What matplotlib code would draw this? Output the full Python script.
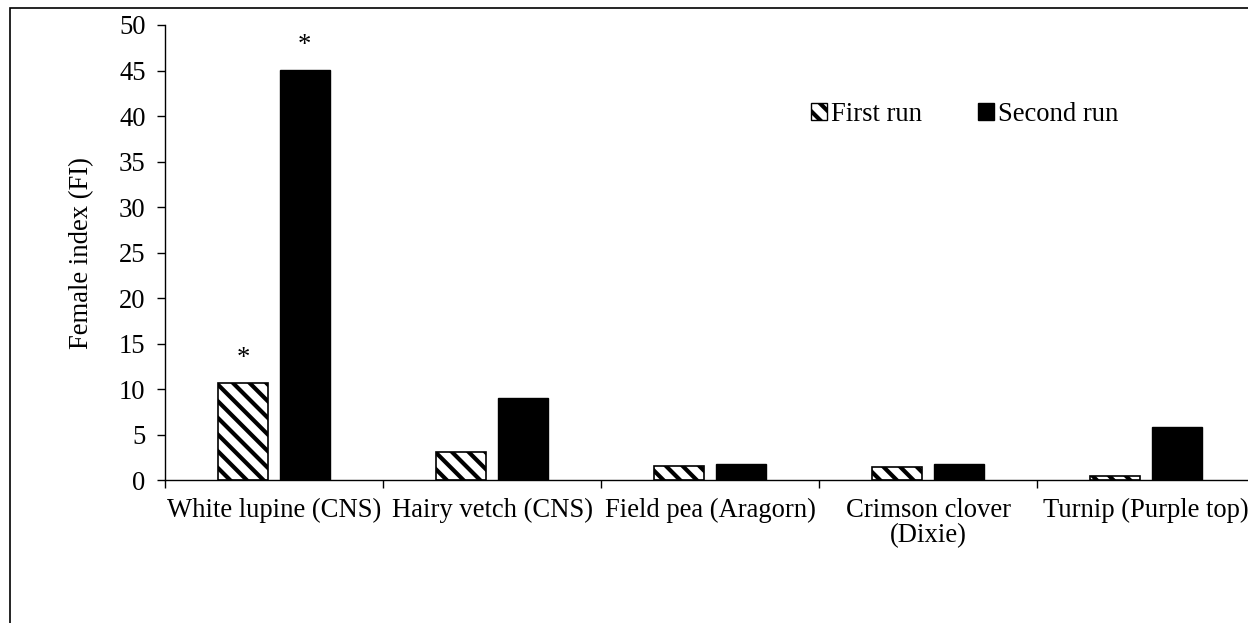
import matplotlib
matplotlib.use("Agg")
import matplotlib.pyplot as plt
from matplotlib.patches import Rectangle, Patch
import numpy as np

plt.rcParams['font.family'] = ['Liberation Serif', 'DejaVu Serif']
plt.rcParams['hatch.linewidth'] = 3.0

categories = ["White lupine (CNS)", "Hairy vetch (CNS)", "Field pea (Aragorn)",
              "Crimson clover\n(Dixie)", "Turnip (Purple top)"]
first_run = [10.7, 3.07, 1.57, 1.5, 0.5]
second_run = [45.1, 9.07, 1.75, 1.75, 5.8]
significant_first = [True, False, False, False, False]
significant_second = [True, False, False, False, False]

FS = 19.2

fig = plt.figure(figsize=(12.48, 6.23), dpi=100)
ax = fig.add_axes([165 / 1248, 142.7 / 623, 1090 / 1248, 455.3 / 623])

x = np.arange(len(categories))
off = 0.141
w = 0.229
ax.bar(x - off, first_run, width=w, color='white', edgecolor='black',
       hatch='\\\\', linewidth=1.2)
ax.bar(x + off, second_run, width=w, color='black', edgecolor='black',
       linewidth=1.0)

for xi, v, s in zip(x - off, first_run, significant_first):
    if s:
        ax.text(xi, v + 1.3, "*", ha='center', va='bottom', fontsize=FS)
for xi, v, s in zip(x + off, second_run, significant_second):
    if s:
        ax.text(xi, v + 1.3, "*", ha='center', va='bottom', fontsize=FS)

ax.set_xlim(-0.5, len(categories) - 0.5)
ax.set_ylim(0, 50)
ax.set_yticks(np.arange(0, 51, 5))
ax.set_xticks(x)
ax.set_xticklabels(categories, fontsize=FS, linespacing=1.0)
ax.set_xticks(np.arange(-0.5, len(categories), 1.0), minor=True)
ax.tick_params(axis='x', which='major', length=0, pad=13)
ax.tick_params(axis='x', which='minor', length=6, width=1, direction='out')
ax.tick_params(axis='y', length=6, width=1, direction='out', labelsize=FS, pad=8)
ax.spines['top'].set_visible(False)
ax.spines['right'].set_visible(False)
ax.spines['left'].set_linewidth(1.0)
ax.spines['bottom'].set_linewidth(1.0)
ax.set_ylabel("Female index (FI)", fontsize=FS, labelpad=18)

handles = [Patch(facecolor='white', edgecolor='black', hatch='\\\\', linewidth=1.0),
           Patch(facecolor='black', edgecolor='black')]
ax.legend(handles, ["First run", "Second run"], loc='center left',
          bbox_to_anchor=(0.593, 0.803), ncol=2, frameon=False, fontsize=FS,
          handlelength=0.6, handleheight=0.6, handletextpad=0.15,
          columnspacing=2.1, borderpad=0, borderaxespad=0)

fig.patches.append(Rectangle((10 / 1248, -0.1), 1.2, 0.1 + 615 / 623,
                             transform=fig.transFigure, fill=False,
                             edgecolor='black', linewidth=1.2))

fig.savefig("out.png", dpi=100)
